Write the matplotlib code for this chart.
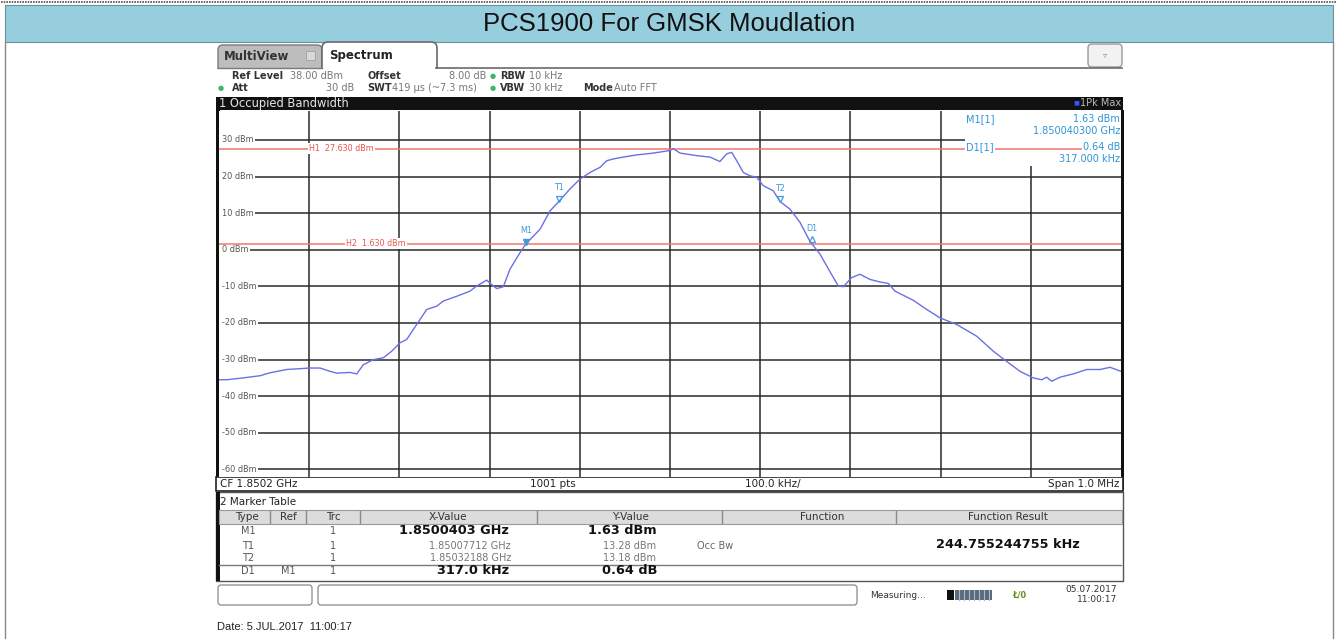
import matplotlib
matplotlib.use('Agg')
import matplotlib.pyplot as plt
from matplotlib.patches import Rectangle, FancyBboxPatch

# ---------------- data ----------------
title = "PCS1900 For GMSK Moudlation"
start_ghz = 1.8497
stop_ghz = 1.8507
ref_level = 38.0
bottom_level = -62.0

freq_offset_khz = [0, 8.5, 26.6, 45.5, 56.5, 75.1, 100.9, 112, 123.1, 130.5, 145.2, 152.7,
                   160, 171.1, 182.2, 191.5, 200.7, 208.1, 219.2, 230.3, 241.4, 248.7,
                   263.5, 278.3, 285.7, 296.8, 302.3, 307.9, 315.2, 322.6, 333.7, 340.3,
                   355.9, 367, 377.1, 389.1, 400.2, 411.3, 422.4, 429.8, 437.1, 448.2,
                   463.1, 481.5, 500, 503.7, 511.1, 529.6, 544.3, 555.4, 562.9, 568.4,
                   574, 581.3, 588.7, 596.1, 603.4, 614.5, 621.9, 633, 644.1, 655.2,
                   666.3, 677.4, 686.6, 692.2, 701.4, 710.6, 721.7, 732.8, 742, 749.4,
                   769.7, 784.6, 799.3, 817.8, 840, 858.4, 873.3, 888, 902.8, 912.1,
                   917.7, 923.2, 932.4, 947.1, 962, 976.7, 987.8, 1000]
level_dbm = [-35.5, -35.5, -35.0, -34.4, -33.6, -32.7, -32.3, -32.3, -33.2, -33.7, -33.5, -33.9,
             -31.4, -30.0, -29.5, -27.7, -25.4, -24.5, -20.4, -16.3, -15.4, -14.0,
             -12.7, -11.3, -9.9, -8.3, -9.5, -10.6, -10.1, -5.3, -0.8, 1.63,
             5.6, 10.6, 13.28, 16.6, 19.3, 21.1, 22.5, 24.3, 24.8, 25.3,
             25.9, 26.4, 27.1, 27.6, 26.4, 25.7, 25.3, 24.1, 26.2, 26.6,
             24.3, 21.1, 20.2, 19.8, 17.5, 16.1, 13.18, 11.1, 7.5, 2.27,
             -1.2, -6.0, -9.9, -10.1, -7.6, -6.7, -8.1, -8.8, -9.2, -11.3,
             -13.8, -16.3, -18.6, -20.4, -23.6, -27.7, -30.5, -33.2, -35.0, -35.5,
             -34.8, -35.9, -34.8, -33.9, -32.7, -32.7, -32.1, -33.2]

y_grid_dbm = [30, 20, 10, 0, -10, -20, -30, -40, -50, -60]
y_grid_labels = ["30 dBm", "20 dBm", "10 dBm", "0 dBm", "-10 dBm", "-20 dBm",
                 "-30 dBm", "-40 dBm", "-50 dBm", "-60 dBm"]

h_line_levels = [27.63, 1.63]
h_line_labels = ["H1  27.630 dBm", "H2  1.630 dBm"]
h_label_freq_khz = [100, 141]

marker_names = ["M1", "T1", "T2", "D1"]
marker_freq_ghz = [1.8500403, 1.85007712, 1.85032188, 1.8503573]
marker_level_dbm = [1.63, 13.28, 13.18, 2.27]

table_type = ["M1", "T1", "T2", "D1"]
table_ref = ["", "", "", "M1"]
table_trc = ["1", "1", "1", "1"]
table_x = ["1.8500403 GHz", "1.85007712 GHz", "1.85032188 GHz", "317.0 kHz"]
table_y = ["1.63 dBm", "13.28 dBm", "13.18 dBm", "0.64 dB"]
table_bold = [True, False, False, True]
table_headers = ["Type", "Ref", "Trc", "X-Value", "Y-Value", "Function", "Function Result"]
function_name = "Occ Bw"
function_result = "244.755244755 kHz"

# ---------------- figure ----------------
W, H = 1338, 639
fig = plt.figure(figsize=(W / 100, H / 100), dpi=100)
fig.patch.set_facecolor('white')
bg = fig.add_axes([0, 0, 1, 1])
bg.set_xlim(0, W)
bg.set_ylim(H, 0)
bg.axis('off')

INST = 'DejaVu Sans'
ARIAL = 'Liberation Sans'


def T(x, y, s, size=7.5, color='#222222', ha='left', va='center', weight='normal',
      family=INST, zorder=6, **kw):
    bg.text(x, y, s, fontsize=size, color=color, ha=ha, va=va, fontweight=weight,
            family=family, zorder=zorder, **kw)


def R(x, y, w, h, fc='none', ec='none', lw=1.0, z=1):
    bg.add_patch(Rectangle((x, y), w, h, facecolor=fc, edgecolor=ec, lw=lw, zorder=z))


# outer frame & title bar
bg.plot([1, W - 1], [2, 2], color='#555555', lw=1.2, ls=(0, (1, 0.6)))
R(5, 5, W - 10, 37, fc='#96CEDD', ec='#6f8f99', lw=0.8)
T(W / 2, 24, title, size=18.5, color='#111111', ha='center', family=ARIAL)
bg.plot([5, 5], [42, H], color='#8a8a8a', lw=1.0)
bg.plot([W - 5, W - 5], [42, H], color='#8a8a8a', lw=1.0)

# tabs
bg.add_patch(FancyBboxPatch((218, 45), 104, 28, boxstyle='round,pad=0,rounding_size=5',
                            fc='#BDBDBD', ec='#7a7a7a', lw=1.0, zorder=2))
T(224, 56, "MultiView", size=8.5, weight='bold', color='#333333')
R(306, 51, 9, 9, fc='#d8d8d8', ec='#a0a0a0', lw=0.6, z=3)
bg.add_patch(FancyBboxPatch((322, 42), 115, 32, boxstyle='round,pad=0,rounding_size=6',
                            fc='white', ec='#6a6a6a', lw=1.2, zorder=3))
R(216, 68.8, 230, 8, fc='white', z=4)
T(329, 55, "Spectrum", size=8.5, weight='bold', color='#222222')
bg.plot([436.4, 1122], [68, 68], color='#6a6a6a', lw=1.2, zorder=5)
bg.plot([218, 322], [68.3, 68.3], color='#7a7a7a', lw=1.0, zorder=5)
bg.add_patch(FancyBboxPatch((1088, 44), 34, 23, boxstyle='round,pad=0,rounding_size=4',
                            fc='#f2f2f2', ec='#9a9a9a', lw=1.0, zorder=3))
T(1105, 55, "\u25bf", size=6, color='#888888', ha='center')

# settings rows
gray = '#777777'
T(232, 76, "Ref Level", size=7, weight='bold', color='#333333')
T(290, 76, "38.00 dBm", size=7, color=gray)
T(367, 76, "Offset", size=7, weight='bold', color='#333333')
T(486, 76, "8.00 dB", size=7, color=gray, ha='right')
T(490, 76, "\u25cf", size=5, color='#3cb371')
T(500, 76, "RBW", size=7, weight='bold', color='#333333')
T(529, 76, "10 kHz", size=7, color=gray)
T(218, 88, "\u25cf", size=5, color='#3cb371')
T(232, 88, "Att", size=7, weight='bold', color='#333333')
T(354, 88, "30 dB", size=7, color=gray, ha='right')
T(367, 88, "SWT", size=7, weight='bold', color='#333333')
T(392, 88, "419 \u00b5s (~7.3 ms)", size=7, color=gray)
T(490, 88, "\u25cf", size=5, color='#3cb371')
T(500, 88, "VBW", size=7, weight='bold', color='#333333')
T(529, 88, "30 kHz", size=7, color=gray)
T(583, 88, "Mode", size=7, weight='bold', color='#333333')
T(614, 88, "Auto FFT", size=7, color=gray)

# black header bar
R(216, 97, 907, 13, fc='#111111', z=2)
T(219, 103, "1 Occupied Bandwidth", size=8.3, color='#e6e6e6')
T(1079, 103, "\u25a0", size=4.5, color='#3355ff', ha='right')
T(1121, 103, "1Pk Max", size=7, color='#bbbbbb', ha='right')

# plot frame
R(216, 110, 3.5, 380, fc='#111111', z=6)
R(1121, 110, 2.5, 380, fc='#111111', z=6)

# ---------------- spectrum axes ----------------
px_top, px_bot = 110.6, 476.8
ax = fig.add_axes([219 / W, 1 - px_bot / H, 902 / W, (px_bot - px_top) / H])
ax.set_zorder(5)
ax.set_xlim(start_ghz, stop_ghz)
ax.set_ylim(bottom_level, ref_level)
ax.set_xticks([])
ax.set_yticks([])
for sp in ax.spines.values():
    sp.set_visible(False)

grid_c = '#2a2a2a'
span = stop_ghz - start_ghz
for i in range(1, 10):
    ax.axvline(start_ghz + span * i / 10, color=grid_c, lw=1.1, zorder=1)
for v, lab in zip(y_grid_dbm, y_grid_labels):
    ax.axhline(v, color=grid_c, lw=1.1, zorder=1)
    ax.text(start_ghz + span * 0.0035, v, lab, fontsize=5.9, color='#555555', va='center',
            ha='left', family=INST, zorder=3,
            bbox=dict(boxstyle='square,pad=0.12', fc='white', ec='none'))
ax.axvspan(start_ghz, start_ghz + span * 0.004, color='white', zorder=2, lw=0)

# marker info box (top right)
box_x0 = start_ghz + span * (965 - 219) / 902
ax.add_patch(Rectangle((box_x0, 22.8), stop_ghz - box_x0, ref_level - 22.8,
                       facecolor='white', edgecolor='none', zorder=2))

freq_ghz = [start_ghz + k * 1e-6 for k in freq_offset_khz]
ax.plot(freq_ghz, level_dbm, color='#6B70E4', lw=1.0, zorder=4)

for lvl, lab, fk in zip(h_line_levels, h_line_labels, h_label_freq_khz):
    ax.axhline(lvl, color='#F0776E', lw=1.1, zorder=3)
    ax.text(start_ghz + fk * 1e-6, lvl, lab, fontsize=5.8, color='#E8564C', va='center',
            ha='left', family=INST, zorder=3,
            bbox=dict(boxstyle='square,pad=0.1', fc='white', ec='none'))

mk_c = '#3B9CDB'
for name, f, l in zip(marker_names, marker_freq_ghz, marker_level_dbm):
    if name == 'M1':
        ax.plot([f], [l + 0.6], marker='v', ms=4.5, color=mk_c, zorder=6)
    elif name == 'D1':
        ax.plot([f], [l + 0.6], marker='^', ms=4.5, mfc='none', mec=mk_c, mew=0.9, zorder=6)
    else:
        ax.plot([f], [l + 0.6], marker='v', ms=4.5, mfc='none', mec=mk_c, mew=0.9, zorder=6)
    ax.text(f, l + 2.4, name, fontsize=5.8, color=mk_c, ha='center', va='bottom',
            family=INST, zorder=6)

info_c = '#2E95D6'
ax.text(start_ghz + span * (966 - 219) / 902, 35.8, "M1[1]", fontsize=7, color=info_c,
        family=INST, va='center', zorder=5)
ax.text(stop_ghz - span * 0.001, 35.8, "1.63 dBm", fontsize=7, color=info_c,
        family=INST, va='center', ha='right', zorder=5)
ax.text(stop_ghz - span * 0.001, 32.5, "1.850040300 GHz", fontsize=7, color=info_c,
        family=INST, va='center', ha='right', zorder=5)
ax.text(start_ghz + span * (966 - 219) / 902, 28.0, "D1[1]", fontsize=7, color=info_c,
        family=INST, va='center', zorder=5,
        bbox=dict(boxstyle='square,pad=0.1', fc='white', ec='none'))
ax.text(stop_ghz - span * 0.001, 28.0, "0.64 dB", fontsize=7, color=info_c,
        family=INST, va='center', ha='right', zorder=5,
        bbox=dict(boxstyle='square,pad=0.1', fc='white', ec='none'))
ax.text(stop_ghz - span * 0.001, 24.8, "317.000 kHz", fontsize=7, color=info_c,
        family=INST, va='center', ha='right', zorder=5)

# ---------------- bottom bar ----------------
R(216, 477, 907, 14, fc='white', ec='#222222', lw=1.2, z=6)
T(220, 484, "CF 1.8502 GHz", size=7.5, color='#222222', zorder=7)
T(530, 484, "1001 pts", size=7.5, color='#222222', zorder=7)
T(745, 484, "100.0 kHz/", size=7.5, color='#222222', zorder=7)
T(1119, 484, "Span 1.0 MHz", size=7.5, color='#222222', ha='right', zorder=7)

# ---------------- marker table ----------------
R(216, 492, 907, 89, fc='white', ec='#555555', lw=1.0, z=2)
R(216, 492, 3.5, 89, fc='#111111', z=3)
T(220, 502, "2 Marker Table", size=7.5, color='#222222')
R(219, 510, 903, 14, fc='#DCDCDC', ec='#9a9a9a', lw=0.8, z=3)
col_sep = [270, 306, 360, 537, 722, 896]
for cx in col_sep:
    bg.plot([cx, cx], [511, 523], color='#8a8a8a', lw=1.0, zorder=4)
hdr_x = [247, 288, 333, 448, 630, 822, 1008]
for hx, ht in zip(hdr_x, table_headers):
    T(hx, 517, ht, size=7.5, color='#333333', ha='center')

row_y = [531, 546, 558, 571]
for ry, ty, rf, tr, xv, yv, b in zip(row_y, table_type, table_ref, table_trc, table_x,
                                      table_y, table_bold):
    T(248, ry, ty, size=7, color='#555555', ha='center')
    T(288, ry, rf, size=7, color='#555555', ha='center')
    T(333, ry, tr, size=7, color='#555555', ha='center')
    if b:
        T(509, ry, xv, size=9.3, color='#111111', ha='right', weight='bold')
        T(657, ry, yv, size=9.3, color='#111111', ha='right', weight='bold')
    else:
        T(511, ry, xv, size=7, color='#777777', ha='right')
        T(656, ry, yv, size=7, color='#777777', ha='right')
T(697, 546, function_name, size=7, color='#666666')
T(1008, 544, function_result, size=9.3, color='#111111', ha='center', weight='bold')
bg.plot([219, 1121], [565, 565], color='#7a7a7a', lw=1.0, zorder=5)

# ---------------- status bar ----------------
bg.add_patch(FancyBboxPatch((218, 585), 94, 20, boxstyle='round,pad=0,rounding_size=3',
                            fc='white', ec='#8a8a8a', lw=0.9, zorder=3))
bg.add_patch(FancyBboxPatch((318, 585), 539, 20, boxstyle='round,pad=0,rounding_size=3',
                            fc='white', ec='#8a8a8a', lw=0.9, zorder=3))
T(870, 595, "Measuring...", size=6.5, color='#333333')
R(947, 590, 7, 10, fc='#111111', z=3)
R(955, 590, 37, 10, fc='#5a6a80', z=3)
for sx in range(959, 992, 5):
    bg.plot([sx, sx], [590, 600], color='#b0b8c4', lw=0.8, zorder=4)
T(1019, 595, "\u0141/0", size=6, color='#6b8e23', ha='center', weight='bold')
T(1117, 589, "05.07.2017", size=6.5, color='#333333', ha='right')
T(1117, 600, "11:00:17", size=6.5, color='#333333', ha='right')

T(217, 627, "Date: 5.JUL.2017  11:00:17", size=8, color='#222222', family=ARIAL)

fig.savefig('out.png', dpi=100, facecolor='white')
